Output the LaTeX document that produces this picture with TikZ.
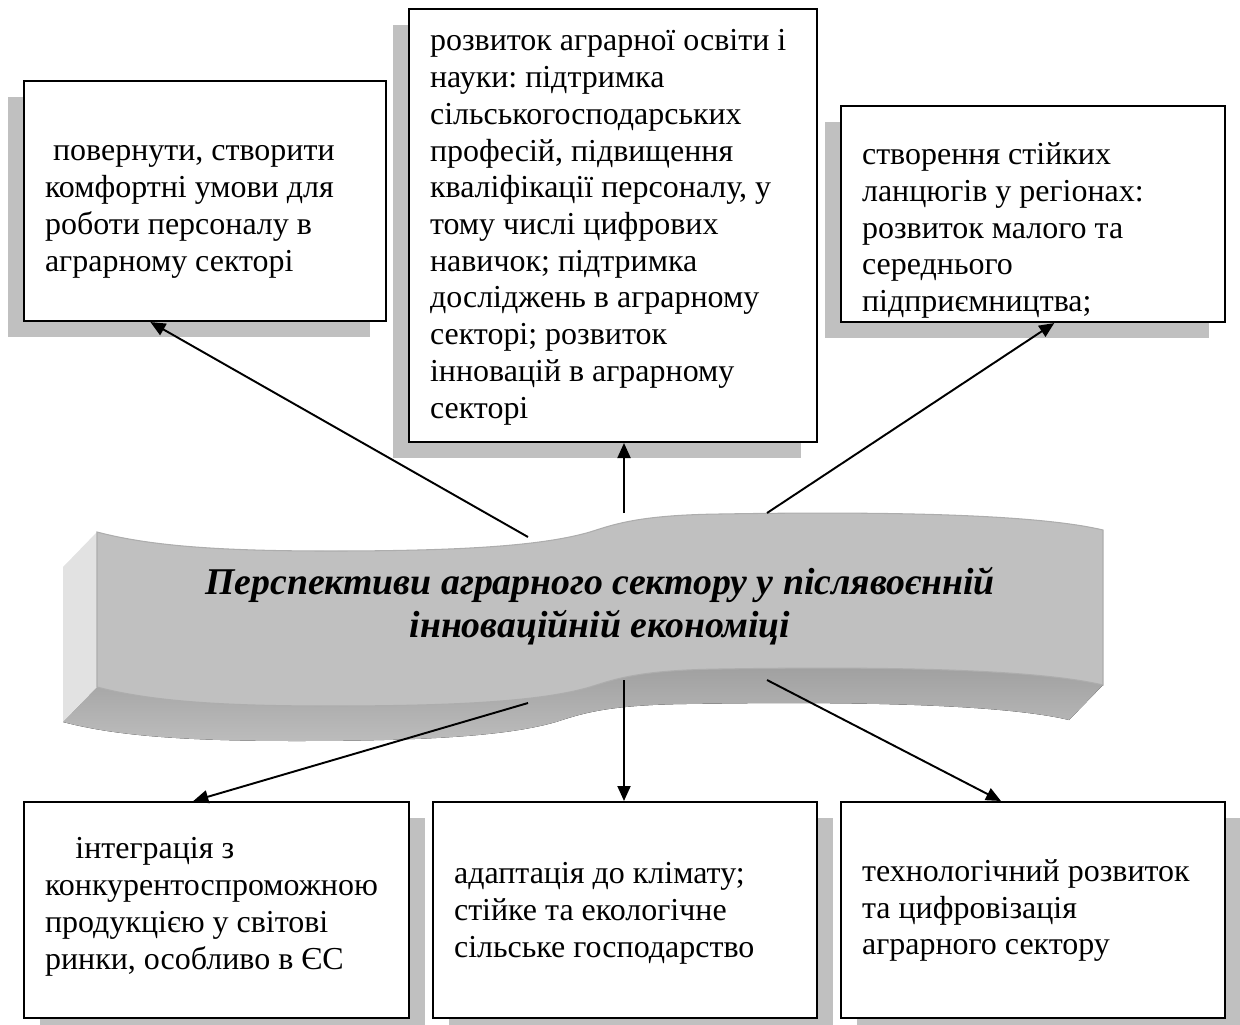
\documentclass[tikz,border=0pt]{standalone}
\usepackage{fontspec}
\setmainfont{Liberation Serif}
\frenchspacing
\usepackage{tikz}
\usetikzlibrary{arrows.meta,calc,shadows}
\definecolor{ribbonfront}{HTML}{C0C0C0}
\definecolor{ribbonside}{HTML}{E2E2E2}
\definecolor{ribbonlowdark}{HTML}{A0A0A0}
\definecolor{ribbonlowlight}{HTML}{BCBCBC}
\definecolor{ribbonrim}{HTML}{ADADAD}
\definecolor{shadowgray}{HTML}{C0C0C0}
\tikzset{
  infobox/.style={anchor=north west, draw=black, line width=1.2pt, fill=white, align=flush left, inner xsep=0.42cm, inner ysep=0pt, font=\fontsize{18.2}{20.9}\selectfont},
  shadowleft/.style={general shadow={fill=shadowgray, shadow xshift=-0.32cm, shadow yshift=-0.32cm}},
  shadowright/.style={general shadow={fill=shadowgray, shadow xshift=0.32cm, shadow yshift=-0.32cm}},
  titletext/.style={align=center, font=\fontsize{21.5}{24.5}\selectfont\bfseries\itshape},
  spoke/.style={-{Triangle[length=0.3cm, width=0.26cm]}, line width=1.1pt, draw=black}
}

\begin{document}
\begin{tikzpicture}[x=0.02cm, y=-0.02cm]
  \useasboundingbox (0,0) rectangle (1240,1024);
  % ribbon: underside, left end, front
  \fill[top color=ribbonlowdark, bottom color=ribbonlowlight]
    (97,687) .. controls (150,701) and (220,706) .. (330,706)
    .. controls (470,706) and (545,700) .. (590,687)
    .. controls (615,679) and (640,670) .. (720,669)
    .. controls (900,666) and (1040,670) .. (1103,685)
    -- (1069,720)
    .. controls (1006,705) and (866,701) .. (686,704)
    .. controls (606,705) and (581,714) .. (556,722)
    .. controls (511,735) and (436,741) .. (296,741)
    .. controls (186,741) and (116,736) .. (63,722) -- cycle;
  \fill[ribbonside] (97,532) -- (63,567) -- (63,722) -- (97,687) -- cycle;
  \filldraw[fill=ribbonfront, draw=ribbonrim, line width=0.6pt]
    (97,532) .. controls (150,546) and (220,551) .. (330,551)
    .. controls (470,551) and (545,545) .. (590,532)
    .. controls (615,524) and (640,515) .. (720,514)
    .. controls (900,511) and (1040,515) .. (1103,530)
    -- (1103,685)
    .. controls (1040,670) and (900,666) .. (720,669)
    .. controls (640,670) and (615,679) .. (590,687)
    .. controls (545,700) and (470,706) .. (330,706)
    .. controls (220,706) and (150,701) .. (97,687) -- cycle;
  \node[titletext] (title) at (600,606) {Перспективи аграрного сектору у післявоєнній\\інноваційній економіці};

  % upper boxes
  \node[infobox, shadowleft, minimum width=7.24cm, minimum height=4.8cm, text width=6.4cm] (staff) at (23,80)
    {\rule{0pt}{0.8cm}\hspace*{0.25em}повернути, створити\\комфортні умови для\\роботи персоналу в\\аграрному секторі\rule[-0.2cm]{0pt}{0.2cm}};
  \node[infobox, shadowleft, minimum width=8.16cm, minimum height=8.66cm, text width=7.32cm] (edu) at (408,8)
    {\rule{0pt}{0.56cm}розвиток аграрної освіти і\\науки: підтримка\\сільськогосподарських\\професій, підвищення\\кваліфікації персоналу, у\\тому числі цифрових\\навичок; підтримка\\досліджень в аграрному\\секторі; розвиток\\інновацій в аграрному\\секторі\rule[-0.2cm]{0pt}{0.2cm}};
  \node[infobox, shadowleft, minimum width=7.68cm, minimum height=4.32cm, text width=6.84cm] (chain) at (840,105)
    {\rule{0pt}{1.16cm}створення стійких\\ланцюгів у регіонах:\\розвиток малого та\\середнього\\підприємництва;\rule[-0.2cm]{0pt}{0.2cm}};

  % lower boxes
  \node[infobox, shadowright, minimum width=7.7cm, minimum height=4.32cm, text width=6.86cm] (trade) at (23,801)
    {\rule{0pt}{0.48cm}\hspace*{0.95em}інтеграція з\\конкурентоспроможною\\продукцією у світові\\ринки, особливо в ЄС\rule[-0.32cm]{0pt}{0.32cm}};
  \node[infobox, shadowright, minimum width=7.68cm, minimum height=4.32cm, text width=6.84cm] (climate) at (432,801)
    {\rule{0pt}{0.62cm}адаптація до клімату;\\стійке та екологічне\\сільське господарство\rule[-0.2cm]{0pt}{0.2cm}};
  \node[infobox, shadowright, minimum width=7.68cm, minimum height=4.32cm, text width=6.84cm] (tech) at (840,801)
    {\rule{0pt}{0.52cm}технологічний розвиток\\та цифровізація\\аграрного сектору\rule[-0.2cm]{0pt}{0.2cm}};

  \coordinate (outstaff) at (528,537);
  \coordinate (outedu) at (624,513);
  \coordinate (outchain) at (767,513);
  \coordinate (outtrade) at (528,703);
  \coordinate (outclimate) at (624,680);
  \coordinate (outtech) at (767,680);
  \draw[spoke] (outstaff) -- ($(staff.south west)!0.35!(staff.south east)$);
  \draw[spoke] (outedu) -- (outedu |- edu.south);
  \draw[spoke] (outchain) -- ($(chain.south west)!0.555!(chain.south east)$);
  \draw[spoke] (outtrade) -- ($(trade.north west)!0.44!(trade.north east)$);
  \draw[spoke] (outclimate) -- (outclimate |- climate.north);
  \draw[spoke] (outtech) -- ($(tech.north west)!0.417!(tech.north east)$);
\end{tikzpicture}
\end{document}
